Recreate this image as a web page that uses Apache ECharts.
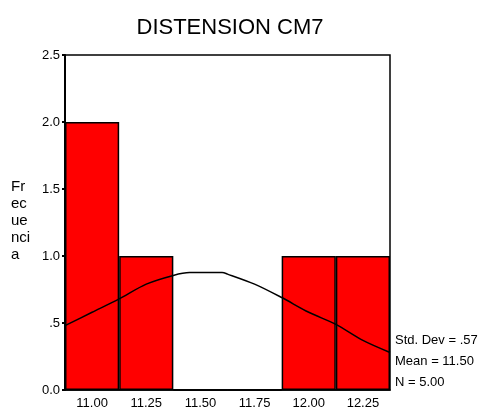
<!DOCTYPE html>
<html>
<head>
<meta charset="utf-8">
<script src="https://cdn.jsdelivr.net/npm/echarts@6/dist/echarts.min.js"></script>
<style>
  html, body { margin: 0; padding: 0; background: #fff; }
  #main { width: 478px; height: 410px; }
</style>
</head>
<body>
<div id="main"></div>
<script>
// histogram bins (centres) and counts
const binLabels = ['11.00', '11.25', '11.50', '11.75', '12.00', '12.25'];
const counts = [2, 1, 0, 0, 1, 1];

// normal curve (x in data units, y = frequency)
const curveX = [10.875, 11.0, 11.125, 11.25, 11.375, 11.45, 11.5, 11.6, 11.625, 11.75, 11.875, 12.0, 12.125, 12.25, 12.375];
const curveY = [0.48, 0.58, 0.68, 0.79, 0.855, 0.876, 0.876, 0.876, 0.865, 0.79, 0.69, 0.58, 0.49, 0.37, 0.28];

const yTickLabels = ['0.0', '.5', '1.0', '1.5', '2.0', '2.5'];
const statLines = ['Std. Dev = .57', 'Mean = 11.50', 'N = 5.00'];

const chart = echarts.init(document.getElementById('main'));

const option = {
  backgroundColor: '#fff',
  animation: false,
  title: {
    text: 'DISTENSION CM7',
    left: 225,
    top: 12,
    textAlign: 'center',
    textStyle: { fontFamily: 'Liberation Sans', fontSize: 22, fontWeight: 'normal', color: '#000' }
  },
  grid: {
    left: 65, right: 88, top: 55, bottom: 19,
    show: true, borderColor: '#000', borderWidth: 1.5, backgroundColor: 'transparent'
  },
  xAxis: [
    {
      type: 'category',
      data: binLabels,
      axisLine: { lineStyle: { color: '#000', width: 1.5 } },
      axisTick: { show: false },
      axisLabel: { color: '#000', fontFamily: 'Liberation Sans', fontSize: 13, margin: 7 }
    },
    {
      type: 'value',
      min: 10.875,
      max: 12.375,
      show: false
    }
  ],
  yAxis: {
    type: 'value',
    min: 0,
    max: 2.5,
    interval: 0.5,
    splitLine: { show: false },
    axisLine: { show: true, lineStyle: { color: '#000', width: 2 } },
    axisTick: { show: true, length: 3, lineStyle: { color: '#000', width: 2 } },
    axisLabel: {
      color: '#000', fontFamily: 'Liberation Sans', fontSize: 13, margin: 5,
      formatter: (v) => yTickLabels[Math.round(v / 0.5)]
    }
  },
  graphic: [
    {
      type: 'text',
      left: 11,
      top: 178,
      style: {
        text: 'Fr\nec\nue\nnci\na',
        fill: '#000',
        font: '15px "Liberation Sans"',
        lineHeight: 17
      }
    },
    {
      type: 'text',
      left: 395,
      top: 330,
      style: {
        text: statLines.join('\n'),
        fill: '#000',
        font: '13px "Liberation Sans"',
        lineHeight: 21
      }
    }
  ],
  series: [
    {
      type: 'bar',
      data: counts,
      barCategoryGap: 0,
      itemStyle: { color: '#ff0000', borderColor: '#000', borderWidth: 1.5 },
      silent: true
    },
    {
      type: 'line',
      xAxisIndex: 1,
      data: curveX.map((x, i) => [x, curveY[i]]),
      showSymbol: false,
      smooth: 0.3,
      lineStyle: { color: '#000', width: 1.5 },
      silent: true,
      z: 5
    }
  ]
};

chart.setOption(option);
</script>
</body>
</html>
